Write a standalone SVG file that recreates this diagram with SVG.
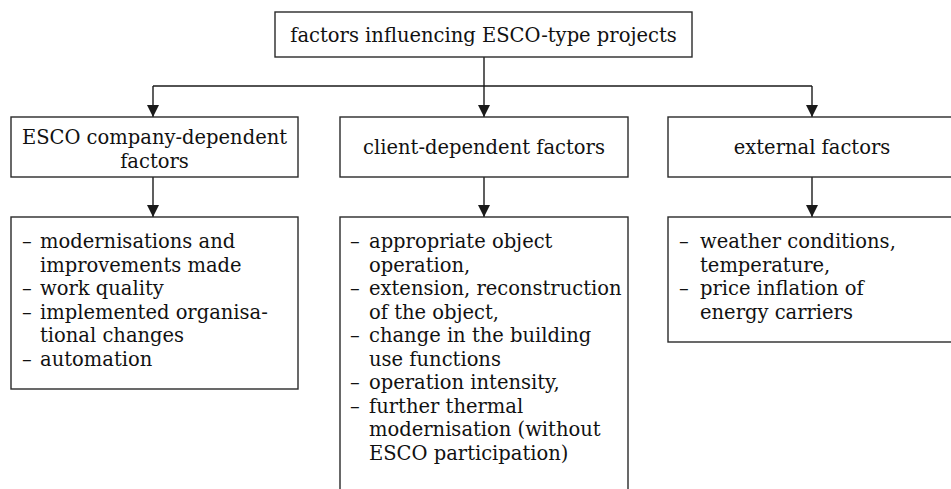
<svg xmlns="http://www.w3.org/2000/svg" width="951" height="489" viewBox="0 0 951 489">
<defs>
<marker id="ah" viewBox="0 0 12 12" refX="12" refY="6" markerWidth="12" markerHeight="12" markerUnits="userSpaceOnUse" orient="auto">
<path d="M0,0 L12,6 L0,12 Z" fill="#1a1a1a"/>
</marker>
<style>
.box{fill:#fff;stroke:#2a2a2a;stroke-width:1.4}
.t{font-family:"DejaVu Serif","Liberation Serif",serif;font-size:19.5px;fill:#111}
.c{text-anchor:middle}
.ln{fill:none;stroke:#1a1a1a;stroke-width:1.4}
</style>
</defs>
<rect width="951" height="489" fill="#fff"/>
<g id="connectors">
<path class="ln" d="M484,57 V117" marker-end="url(#ah)"/>
<path class="ln" d="M153,86 H812"/>
<path class="ln" d="M153,86 V117" marker-end="url(#ah)"/>
<path class="ln" d="M812,86 V117" marker-end="url(#ah)"/>
<path class="ln" d="M153,177 V217" marker-end="url(#ah)"/>
<path class="ln" d="M484,177 V217" marker-end="url(#ah)"/>
<path class="ln" d="M812,177 V217" marker-end="url(#ah)"/>
</g>
<g id="root">
<rect class="box" x="275" y="12" width="417" height="45"/>
<text class="t c" x="483.5" y="42">factors influencing ESCO-type projects</text>
</g>
<g id="esco">
<rect class="box" x="11" y="117" width="287" height="60"/>
<text class="t c" x="154.5" y="144">ESCO company-dependent</text>
<text class="t c" x="154.5" y="168">factors</text>
</g>
<g id="client">
<rect class="box" x="340" y="117" width="288" height="60"/>
<text class="t c" x="484" y="154">client-dependent factors</text>
</g>
<g id="external">
<rect class="box" x="668" y="117" width="290" height="60"/>
<text class="t c" x="812" y="154">external factors</text>
</g>
<g id="esco-list">
<rect class="box" x="11" y="217" width="287" height="172"/>
<text class="t"><tspan x="22" y="248">–</tspan><tspan x="40" y="248">modernisations and</tspan><tspan x="40" y="271.5">improvements made</tspan><tspan x="22" y="295">–</tspan><tspan x="40" y="295">work quality</tspan><tspan x="22" y="318.5">–</tspan><tspan x="40" y="318.5">implemented organisa-</tspan><tspan x="40" y="342">tional changes</tspan><tspan x="22" y="365.5">–</tspan><tspan x="40" y="365.5">automation</tspan></text>
</g>
<g id="client-list">
<rect class="box" x="340" y="217" width="288" height="290"/>
<text class="t"><tspan x="350" y="248">–</tspan><tspan x="369" y="248">appropriate object</tspan><tspan x="369" y="271.5">operation,</tspan><tspan x="350" y="295">–</tspan><tspan x="369" y="295">extension, reconstruction</tspan><tspan x="369" y="318.5">of the object,</tspan><tspan x="350" y="342">–</tspan><tspan x="369" y="342">change in the building</tspan><tspan x="369" y="365.5">use functions</tspan><tspan x="350" y="389">–</tspan><tspan x="369" y="389">operation intensity,</tspan><tspan x="350" y="412.5">–</tspan><tspan x="369" y="412.5">further thermal</tspan><tspan x="369" y="436">modernisation (without</tspan><tspan x="369" y="459.5">ESCO participation)</tspan></text>
</g>
<g id="external-list">
<rect class="box" x="668" y="217" width="290" height="125"/>
<text class="t"><tspan x="679" y="248">–</tspan><tspan x="700" y="248">weather conditions,</tspan><tspan x="700" y="271.5">temperature,</tspan><tspan x="679" y="295">–</tspan><tspan x="700" y="295">price inflation of</tspan><tspan x="700" y="318.5">energy carriers</tspan></text>
</g>
</svg>
